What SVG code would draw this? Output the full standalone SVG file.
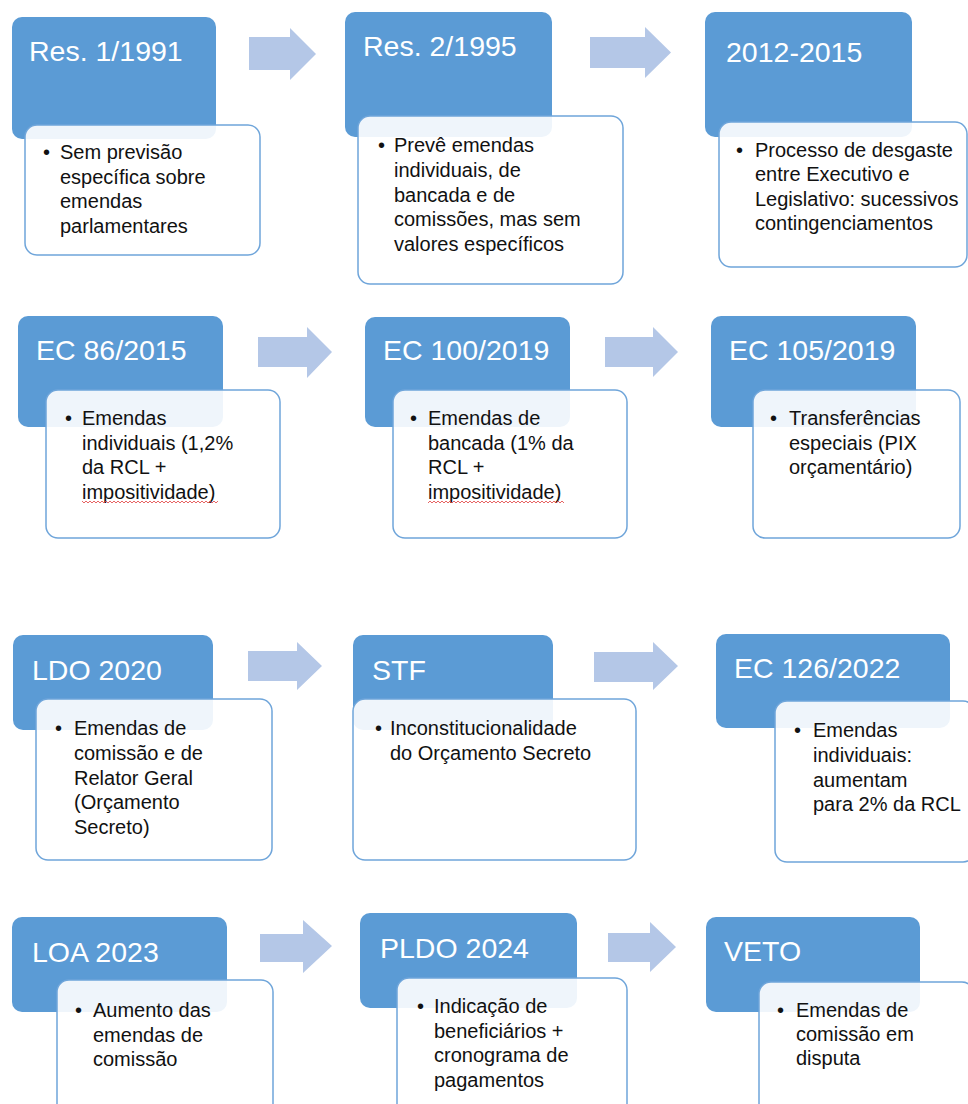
<svg xmlns="http://www.w3.org/2000/svg" width="968" height="1104" viewBox="0 0 968 1104">
<defs>
<style>
.hd{fill:#5B9BD5;}
.bx{fill:#FFFFFF;fill-opacity:0.9;stroke:#6FA5DA;stroke-width:1.5;}
.ttl{font-family:"Liberation Sans",Arial,sans-serif;font-size:28.5px;fill:#FFFFFF;}
.txt{font-family:"Liberation Sans",Arial,sans-serif;font-size:20px;fill:#111111;}
.arr{fill:#B4C7E7;}
</style>
<pattern id="wave" width="4" height="4" patternUnits="userSpaceOnUse">
<path d="M0 3 L2 1 L4 3" fill="none" stroke="#E03C3C" stroke-width="0.8"/>
</pattern>
</defs>
<rect width="968" height="1104" fill="#FFFFFF"/>

<g id="connectors">
<path class="arr" d="M249 37 H290 V28 L316 54 L290 80 V70 H249 Z"/>
<path class="arr" d="M590 37 H645 V27 L671 52.5 L645 78 V68 H590 Z"/>
<path class="arr" d="M258 337 H307 V327 L332 352 L307 378 V367 H258 Z"/>
<path class="arr" d="M605 337 H653 V327 L678 352 L653 377 V367 H605 Z"/>
<path class="arr" d="M248 651 H297 V642 L322 666 L297 690 V681 H248 Z"/>
<path class="arr" d="M594 652 H653 V642 L678 666 L653 690 V682 H594 Z"/>
<path class="arr" d="M260 934 H303 V920 L332 946 L303 973 V962 H260 Z"/>
<path class="arr" d="M608 933 H650 V922 L676 947 L650 972 V962 H608 Z"/>
</g>

<g id="n1">
<rect class="hd" x="12" y="17" width="204" height="122" rx="10"/>
<text class="ttl" x="29" y="61">Res. 1/1991</text>
<rect class="bx" x="25" y="125" width="235" height="130" rx="12"/>
<text class="txt" x="43" y="159">•</text>
<text class="txt" x="60" y="159">Sem previsão<tspan x="60" dy="24.5">específica sobre</tspan><tspan x="60" dy="24.5">emendas</tspan><tspan x="60" dy="24.5">parlamentares</tspan></text>
</g>

<g id="n2">
<rect class="hd" x="345" y="12" width="207" height="125" rx="10"/>
<text class="ttl" x="363" y="56">Res. 2/1995</text>
<rect class="bx" x="358" y="116" width="265" height="168" rx="12"/>
<text class="txt" x="378" y="152">•</text>
<text class="txt" x="394" y="152">Prevê emendas<tspan x="394" dy="24.8">individuais, de</tspan><tspan x="394" dy="24.8">bancada e de</tspan><tspan x="394" dy="24.8">comissões, mas sem</tspan><tspan x="394" dy="24.8">valores específicos</tspan></text>
</g>

<g id="n3">
<rect class="hd" x="705" y="12" width="207" height="125" rx="10"/>
<text class="ttl" x="726" y="62">2012-2015</text>
<rect class="bx" x="719" y="122" width="248" height="145" rx="12"/>
<text class="txt" x="736" y="157">•</text>
<text class="txt" x="755" y="157">Processo de desgaste<tspan x="755" dy="24.4">entre Executivo e</tspan><tspan x="755" dy="24.4">Legislativo: sucessivos</tspan><tspan x="755" dy="24.4">contingenciamentos</tspan></text>
</g>

<g id="n4">
<rect class="hd" x="18" y="316" width="205" height="111" rx="10"/>
<text class="ttl" x="36" y="360">EC 86/2015</text>
<rect class="bx" x="46" y="390" width="234" height="148" rx="12"/>
<text class="txt" x="65" y="425">•</text>
<text class="txt" x="82" y="425">Emendas<tspan x="82" dy="24.5">individuais (1,2%</tspan><tspan x="82" dy="24.5">da RCL +</tspan><tspan x="82" dy="24.5">impositividade)</tspan></text>
<rect x="82" y="501" width="136" height="4" fill="url(#wave)"/>
</g>

<g id="n5">
<rect class="hd" x="365" y="317" width="205" height="110" rx="10"/>
<text class="ttl" x="383" y="360">EC 100/2019</text>
<rect class="bx" x="393" y="390" width="234" height="148" rx="12"/>
<text class="txt" x="410" y="425">•</text>
<text class="txt" x="428" y="425">Emendas de<tspan x="428" dy="24.5">bancada (1% da</tspan><tspan x="428" dy="24.5">RCL +</tspan><tspan x="428" dy="24.5">impositividade)</tspan></text>
<rect x="428" y="501" width="136" height="4" fill="url(#wave)"/>
</g>

<g id="n6">
<rect class="hd" x="711" y="316" width="205" height="111" rx="10"/>
<text class="ttl" x="729" y="360">EC 105/2019</text>
<rect class="bx" x="753" y="390" width="207" height="148" rx="12"/>
<text class="txt" x="770" y="425">•</text>
<text class="txt" x="789" y="425">Transferências<tspan x="789" dy="24.5">especiais (PIX</tspan><tspan x="789" dy="24.5">orçamentário)</tspan></text>
</g>

<g id="n7">
<rect class="hd" x="13" y="635" width="200" height="95" rx="10"/>
<text class="ttl" x="32" y="680">LDO 2020</text>
<rect class="bx" x="36" y="699" width="236" height="161" rx="12"/>
<text class="txt" x="55" y="735">•</text>
<text class="txt" x="74" y="735">Emendas de<tspan x="74" dy="24.8">comissão e de</tspan><tspan x="74" dy="24.8">Relator Geral</tspan><tspan x="74" dy="24.8">(Orçamento</tspan><tspan x="74" dy="24.8">Secreto)</tspan></text>
</g>

<g id="n8">
<rect class="hd" x="353" y="635" width="200" height="95" rx="10"/>
<text class="ttl" x="372" y="680">STF</text>
<rect class="bx" x="353" y="699" width="283" height="161" rx="12"/>
<text class="txt" x="375" y="735">•</text>
<text class="txt" x="390" y="735">Inconstitucionalidade<tspan x="390" dy="24.8">do Orçamento Secreto</tspan></text>
</g>

<g id="n9">
<rect class="hd" x="716" y="634" width="234" height="94" rx="10"/>
<text class="ttl" x="734" y="678">EC 126/2022</text>
<rect class="bx" x="775" y="701" width="200" height="161" rx="12"/>
<text class="txt" x="794" y="737">•</text>
<text class="txt" x="813" y="737">Emendas<tspan x="813" dy="24.8">individuais:</tspan><tspan x="813" dy="24.8">aumentam</tspan><tspan x="813" dy="24.8">para 2% da RCL</tspan></text>
</g>

<g id="n10">
<rect class="hd" x="12" y="917" width="215" height="95" rx="10"/>
<text class="ttl" x="32" y="962">LOA 2023</text>
<rect class="bx" x="57" y="980" width="216" height="140" rx="12"/>
<text class="txt" x="75" y="1017">•</text>
<text class="txt" x="93" y="1017">Aumento das<tspan x="93" dy="24.5">emendas de</tspan><tspan x="93" dy="24.5">comissão</tspan></text>
</g>

<g id="n11">
<rect class="hd" x="360" y="913" width="217" height="95" rx="10"/>
<text class="ttl" x="380" y="958">PLDO 2024</text>
<rect class="bx" x="397" y="978" width="230" height="140" rx="12"/>
<text class="txt" x="417" y="1013">•</text>
<text class="txt" x="434" y="1013">Indicação de<tspan x="434" dy="24.6">beneficiários +</tspan><tspan x="434" dy="24.6">cronograma de</tspan><tspan x="434" dy="24.6">pagamentos</tspan></text>
</g>

<g id="n12">
<rect class="hd" x="706" y="917" width="214" height="95" rx="10"/>
<text class="ttl" x="724" y="961">VETO</text>
<rect class="bx" x="759" y="982" width="215" height="140" rx="12"/>
<text class="txt" x="777" y="1017">•</text>
<text class="txt" x="796" y="1017">Emendas de<tspan x="796" dy="23.8">comissão em</tspan><tspan x="796" dy="23.8">disputa</tspan></text>
</g>
</svg>
